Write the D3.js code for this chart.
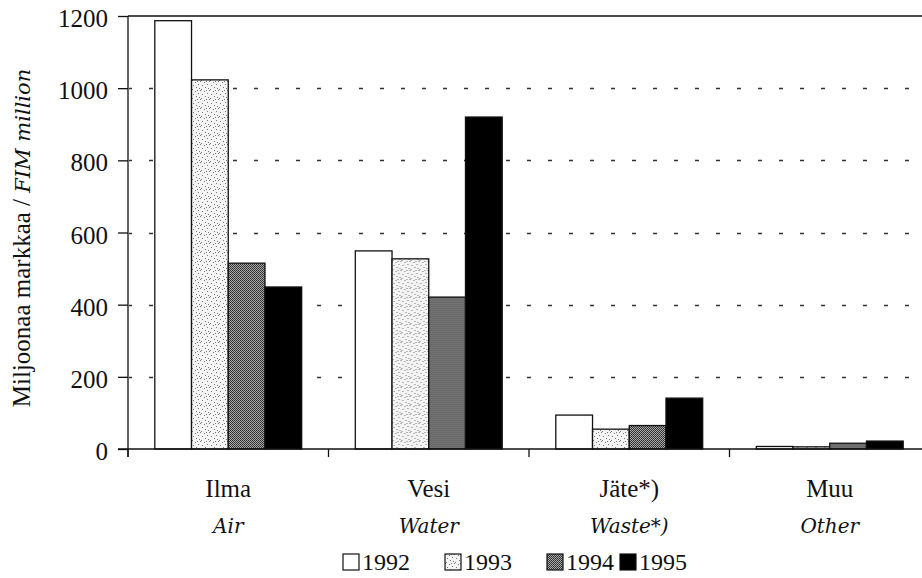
<!DOCTYPE html>
<html>
<head>
<meta charset="utf-8">
<script src="https://cdn.jsdelivr.net/npm/d3@7/dist/d3.min.js"></script>
<style>
  body { margin: 0; background: #fff; }
</style>
</head>
<body>
<div id="container"></div>
<script>
var categories = ['Ilma', 'Vesi', 'Jäte*)', 'Muu'];
var categoriesEn = ['Air', 'Water', 'Waste*)', 'Other'];
var years = ['1992', '1993', '1994', '1995'];
var values1992 = [1187, 549, 94, 7];
var values1993 = [1023, 527, 55, 6];
var values1994 = [515, 421, 65, 16];
var values1995 = [449, 920, 141, 22];
var yTicks = [0, 200, 400, 600, 800, 1000, 1200];

var series = [values1992, values1993, values1994, values1995];

var serifFont = '"Liberation Serif", "Times New Roman", serif';
var italicFont = '"DejaVu Serif", serif';

var width = 922;
var height = 578;
var plotLeft = 128, plotRight = 930, plotTop = 16, plotBottom = 449;

var svg = d3.select('#container')
	.append('svg')
	.attr('width', width)
	.attr('height', height)
	.style('display', 'block');

// fill patterns like the printed original
var defs = svg.append('defs');
var p93 = defs.append('pattern')
	.attr('id', 'p1993')
	.attr('patternUnits', 'userSpaceOnUse')
	.attr('width', 9).attr('height', 9);
p93.append('rect').attr('width', 9).attr('height', 9).attr('fill', '#f4f4f4');
[[0, 0], [4, 1], [7, 3], [2, 4], [5, 6], [8, 7], [1, 8], [6, 0]].forEach(function(d) {
	p93.append('rect').attr('x', d[0]).attr('y', d[1])
		.attr('width', 1).attr('height', 1).attr('fill', '#777');
});
var p94 = defs.append('pattern')
	.attr('id', 'p1994')
	.attr('patternUnits', 'userSpaceOnUse')
	.attr('width', 2).attr('height', 2);
p94.append('rect').attr('width', 2).attr('height', 2).attr('fill', '#aaa');
p94.append('rect').attr('width', 1).attr('height', 1).attr('fill', '#2a2a2a');
p94.append('rect').attr('x', 1).attr('y', 1).attr('width', 1).attr('height', 1).attr('fill', '#3a3a3a');

var fills = ['#fff', 'url(#p1993)', 'url(#p1994)', '#000'];
var color = d3.scaleOrdinal().domain(years).range(fills);

var x0 = d3.scaleBand()
	.domain(categories)
	.range([plotLeft, plotRight]);

var x1 = d3.scaleBand()
	.domain(years)
	.range([0, x0.bandwidth()])
	.paddingOuter(0.73);

var y = d3.scaleLinear()
	.domain([0, 1200])
	.range([plotBottom, plotTop]);

// dashed grid lines
svg.append('g')
	.selectAll('line')
	.data(yTicks.filter(function(d) { return d > 0 && d < 1200; }))
	.enter()
	.append('line')
	.attr('x1', plotLeft + 1).attr('x2', width)
	.attr('y1', (d) => Math.round(y(d)) + 0.5)
	.attr('y2', (d) => Math.round(y(d)) + 0.5)
	.attr('stroke', '#333')
	.attr('stroke-width', 1.3)
	.attr('stroke-dasharray', '4,17')
	.attr('stroke-dashoffset', -20);

// top frame line
svg.append('line')
	.attr('x1', plotLeft).attr('x2', width)
	.attr('y1', y(1200)).attr('y2', y(1200))
	.attr('stroke', '#111').attr('stroke-width', 1.5);

// bars
var groups = svg.append('g')
	.selectAll('g')
	.data(categories)
	.enter()
	.append('g')
	.attr('transform', (d) => 'translate(' + x0(d) + ',0)');

groups.selectAll('rect')
	.data(function(c, i) {
		return years.map(function(yr, j) { return {year: yr, value: series[j][i]}; });
	})
	.enter()
	.append('rect')
	.attr('x', (d) => x1(d.year))
	.attr('y', (d) => y(d.value))
	.attr('width', x1.bandwidth())
	.attr('height', (d) => y(0) - y(d.value))
	.attr('fill', (d) => color(d.year))
	.attr('stroke', '#111')
	.attr('stroke-width', 1.3);

// y axis
var yAxis = svg.append('g')
	.attr('transform', 'translate(' + plotLeft + ',0)')
	.call(d3.axisLeft(y).tickValues(yTicks).tickSize(10).tickPadding(10).tickFormat(d3.format('d')));
yAxis.attr('font-family', null).attr('font-size', null);
yAxis.select('.domain').remove();
yAxis.selectAll('line').attr('stroke', '#111').attr('stroke-width', 1.3);
yAxis.selectAll('text')
	.style('font-family', serifFont)
	.style('font-size', '25px')
	.attr('dy', '0.42em')
	.attr('fill', '#111');

svg.append('line')
	.attr('x1', plotLeft).attr('x2', plotLeft)
	.attr('y1', plotTop).attr('y2', plotBottom + 8)
	.attr('stroke', '#111').attr('stroke-width', 1.3);

// x axis baseline and category separators
svg.append('line')
	.attr('x1', plotLeft - 10).attr('x2', width)
	.attr('y1', plotBottom).attr('y2', plotBottom)
	.attr('stroke', '#111').attr('stroke-width', 1.3);

svg.append('g')
	.selectAll('line')
	.data(categories)
	.enter()
	.append('line')
	.attr('x1', (d) => x0(d)).attr('x2', (d) => x0(d))
	.attr('y1', plotBottom).attr('y2', plotBottom + 8)
	.attr('stroke', '#111').attr('stroke-width', 1.3);

// category labels
var labels = svg.append('g')
	.selectAll('g')
	.data(categories)
	.enter()
	.append('g')
	.attr('transform', (d) => 'translate(' + (x0(d) + x0.bandwidth() / 2) + ',0)');

labels.append('text')
	.attr('y', 497)
	.attr('text-anchor', 'middle')
	.style('font-family', serifFont)
	.style('font-size', '25px')
	.attr('fill', '#111')
	.text((d) => d);

labels.append('text')
	.attr('y', 533)
	.attr('text-anchor', 'middle')
	.style('font-family', italicFont)
	.style('font-style', 'italic')
	.style('font-size', '20px')
	.attr('fill', '#111')
	.text((d, i) => categoriesEn[i]);

// y axis title
var title = svg.append('text')
	.attr('transform', 'translate(30,238) rotate(-90)')
	.attr('text-anchor', 'middle')
	.style('font-family', serifFont)
	.style('font-size', '25px')
	.attr('fill', '#111');
title.append('tspan').text('Miljoonaa markkaa / ');
title.append('tspan')
	.style('font-family', italicFont)
	.style('font-style', 'italic')
	.style('font-size', '21px')
	.text('FIM million');

// legend
var legendX = [343, 445, 547, 620];
var legend = svg.append('g')
	.selectAll('g')
	.data(years)
	.enter()
	.append('g')
	.attr('transform', (d, i) => 'translate(' + legendX[i] + ',554)');

legend.append('rect')
	.attr('width', 16).attr('height', 16)
	.attr('fill', (d) => color(d))
	.attr('stroke', '#111')
	.attr('stroke-width', 1.2);

legend.append('text')
	.attr('x', 19)
	.attr('y', 16)
	.style('font-family', serifFont)
	.style('font-size', '24px')
	.attr('fill', '#111')
	.text((d) => d);
</script>
</body>
</html>
